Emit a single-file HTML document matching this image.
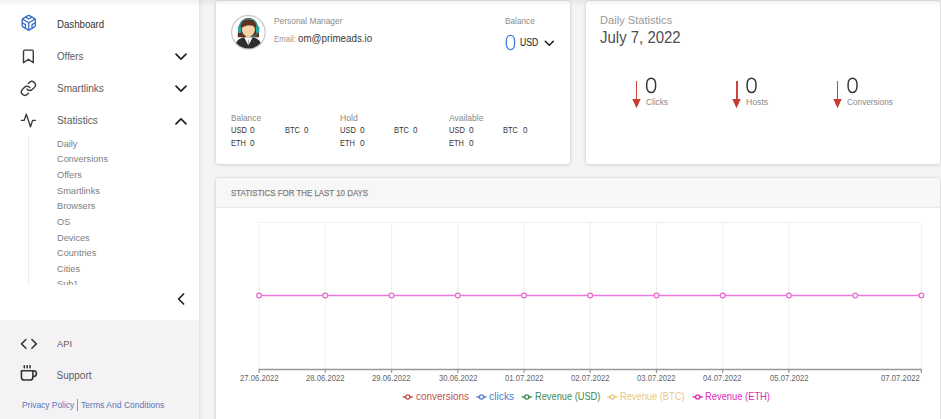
<!DOCTYPE html>
<html><head><meta charset="utf-8"><style>
html,body{margin:0;padding:0}
body{width:941px;height:419px;overflow:hidden;position:relative;background:#f4f4f4;font-family:"Liberation Sans",sans-serif}
.t{position:absolute;white-space:nowrap;line-height:1;transform-origin:0 0}
.ic{position:absolute;overflow:visible}
#sbw{position:absolute;left:0;top:-10px;width:199px;height:440px;background:#fff;box-shadow:0 0 5px rgba(0,0,0,0.14)}
#sb{position:absolute;left:0;top:0;width:199px;height:320px;background:#fff}
#sbb{position:absolute;left:0;top:320px;width:199px;height:99px;background:#f4f2f4}
#subline{position:absolute;left:28px;top:136px;width:1px;height:148.6px;background:#ececec}
#sub{position:absolute;left:0;top:136px;width:199px;height:148.6px;overflow:hidden}
#topsh{position:absolute;left:0;top:0;width:941px;height:6px;background:linear-gradient(to bottom,rgba(0,0,0,0.06),rgba(0,0,0,0))}
.card{position:absolute;background:#fff;border-radius:3px;box-shadow:0 0 3px rgba(0,0,0,0.13),0 1px 4px rgba(0,0,0,0.1)}
</style></head><body>
<div id="sbw"></div><div id="sb"></div><div id="sbb"></div>
<svg class="ic" style="left:19.75px;top:13.85px" width="17.5" height="17.5" viewBox="0 0 24 24" fill="none" stroke-linecap="round" stroke-linejoin="round" stroke="#3770c2" stroke-width="1.8"><path d="M21 16V8a2 2 0 0 0-1-1.73l-7-4a2 2 0 0 0-2 0l-7 4A2 2 0 0 0 3 8v8a2 2 0 0 0 1 1.73l7 4a2 2 0 0 0 2 0l7-4A2 2 0 0 0 21 16z"/><polyline points="7.5 4.21 12 6.81 16.5 4.21"/><polyline points="7.5 19.79 7.5 14.6 3 12"/><polyline points="21 12 16.5 14.6 16.5 19.79"/><polyline points="3.27 6.96 12 12.01 20.73 6.96"/><line x1="12" y1="22.08" x2="12" y2="12"/></svg>
<svg class="ic" style="left:19.90px;top:48.35px" width="16.8" height="16.8" viewBox="0 0 24 24" fill="none" stroke-linecap="round" stroke-linejoin="round" stroke="#3a3a3a" stroke-width="2.0"><path d="M19 21l-7-5-7 5V5a2 2 0 0 1 2-2h10a2 2 0 0 1 2 2z"/></svg>
<svg class="ic" style="left:19.70px;top:80.30px" width="16.8" height="16.8" viewBox="0 0 24 24" fill="none" stroke-linecap="round" stroke-linejoin="round" stroke="#3a3a3a" stroke-width="2.0"><path d="M10 13a5 5 0 0 0 7.54.54l3-3a5 5 0 0 0-7.07-7.07l-1.72 1.71"/><path d="M14 11a5 5 0 0 0-7.54-.54l-3 3a5 5 0 0 0 7.07 7.07l1.71-1.71"/></svg>
<svg class="ic" style="left:20.00px;top:112.20px" width="16.8" height="16.8" viewBox="0 0 24 24" fill="none" stroke-linecap="round" stroke-linejoin="round" stroke="#3a3a3a" stroke-width="2.0"><polyline points="22 12 18 12 15 21 9 3 6 12 2 12"/></svg>
<svg class="ic" style="left:0;top:0" width="199" height="419" fill="none" stroke-linecap="round" stroke-linejoin="round" stroke="#222" stroke-width="1.7">
<polyline points="176,54.2 181,59.2 186,54.2"/><polyline points="176,86.2 181,91.2 186,86.2"/><polyline points="176,123.8 181,118.8 186,123.8"/><polyline points="183.6,294 178.6,299 183.6,304"/>
</svg>
<div class="t" id="t0" style="left:57.10px;top:19.60px;font-size:10.4px;color:#333;font-weight:normal;transform:scaleX(0.9283);">Dashboard</div>
<div class="t" id="t1" style="left:57.10px;top:51.50px;font-size:10.4px;color:#5c5c5c;font-weight:normal;transform:scaleX(0.9392);">Offers</div>
<div class="t" id="t2" style="left:57.00px;top:83.90px;font-size:10.4px;color:#5c5c5c;font-weight:normal;transform:scaleX(0.9649);">Smartlinks</div>
<div class="t" id="t3" style="left:57.00px;top:115.70px;font-size:10.4px;color:#5c5c5c;font-weight:normal;transform:scaleX(0.9861);">Statistics</div>
<div id="subline"></div><div id="sub">
<div class="t" id="t4" style="left:57.00px;top:3.71px;font-size:9.2px;color:#7e7e7e;font-weight:normal;">Daily</div>
<div class="t" id="t5" style="left:57.00px;top:19.35px;font-size:9.2px;color:#7e7e7e;font-weight:normal;">Conversions</div>
<div class="t" id="t6" style="left:57.00px;top:34.99px;font-size:9.2px;color:#7e7e7e;font-weight:normal;">Offers</div>
<div class="t" id="t7" style="left:57.00px;top:50.63px;font-size:9.2px;color:#7e7e7e;font-weight:normal;">Smartlinks</div>
<div class="t" id="t8" style="left:57.00px;top:66.27px;font-size:9.2px;color:#7e7e7e;font-weight:normal;">Browsers</div>
<div class="t" id="t9" style="left:57.00px;top:81.91px;font-size:9.2px;color:#7e7e7e;font-weight:normal;">OS</div>
<div class="t" id="t10" style="left:57.00px;top:97.55px;font-size:9.2px;color:#7e7e7e;font-weight:normal;">Devices</div>
<div class="t" id="t11" style="left:57.00px;top:113.19px;font-size:9.2px;color:#7e7e7e;font-weight:normal;">Countries</div>
<div class="t" id="t12" style="left:57.00px;top:128.83px;font-size:9.2px;color:#7e7e7e;font-weight:normal;">Cities</div>
<div class="t" id="t13" style="left:57.00px;top:144.47px;font-size:9.2px;color:#7e7e7e;font-weight:normal;">Sub1</div>
</div>
<svg class="ic" style="left:19.55px;top:335.00px" width="17.8" height="17.8" viewBox="0 0 24 24" fill="none" stroke-linecap="round" stroke-linejoin="round" stroke="#333" stroke-width="2.0"><polyline points="16 18 22 12 16 6"/><polyline points="8 6 2 12 8 18"/></svg>
<svg class="ic" style="left:20.00px;top:364.90px" width="17.2" height="17.2" viewBox="0 0 24 24" fill="none" stroke-linecap="round" stroke-linejoin="round" stroke="#333" stroke-width="2.2"><path d="M18 8h1a4 4 0 0 1 0 8h-1"/><path d="M2 8h16v9a4 4 0 0 1-4 4H6a4 4 0 0 1-4-4V8z"/><line x1="6" y1="1" x2="6" y2="4"/><line x1="10" y1="1" x2="10" y2="4"/><line x1="14" y1="1" x2="14" y2="4"/></svg>
<div class="t" id="t14" style="left:56.50px;top:339.39px;font-size:9.7px;color:#5c5c5c;font-weight:normal;transform:scaleX(0.9600);">API</div>
<div class="t" id="t15" style="left:56.50px;top:370.64px;font-size:10px;color:#5c5c5c;font-weight:normal;">Support</div>
<div class="t" id="t16" style="left:21.50px;top:400.71px;font-size:9.2px;color:#5677bb;font-weight:normal;transform:scaleX(0.9128);">Privacy Policy</div>
<div style="position:absolute;left:77px;top:399px;width:1.2px;height:12.4px;background:#6a9be8"></div>
<div class="t" id="t17" style="left:81.30px;top:400.71px;font-size:9.2px;color:#5677bb;font-weight:normal;transform:scaleX(0.9331);">Terms And Conditions</div>
<div class="card" style="left:216px;top:1px;width:354px;height:163px"></div>
<svg class="ic" style="left:230px;top:14px" width="37" height="37" viewBox="0 0 37 37">
<defs><clipPath id="cc"><circle cx="18.4" cy="18.3" r="16.2"/></clipPath></defs>
<circle cx="18.4" cy="18.3" r="16.8" fill="#fff" stroke="#cdcdcd" stroke-width="1.3"/>
<g clip-path="url(#cc)">
<path d="M7.8 23.2 C7.4 12 10.5 4 18.4 4 C26.3 4 29.4 12 29 23.2 Z" fill="#5e3322"/>
<path d="M4.5 37 C4.5 28 8.5 24.3 14 23.3 L22.8 23.3 C28.3 24.3 32.3 28 32.3 37 Z" fill="#2e2e2e"/>
<path d="M14.1 23.3 L18.4 31.6 L22.7 23.3 Z" fill="#fff"/>
<path d="M18.4 25.5 L18.4 31" stroke="#777" stroke-width="0.7"/>
<rect x="15.9" y="19" width="5" height="4.8" fill="#eec595"/>
<ellipse cx="18.4" cy="15.6" rx="6.5" ry="7" fill="#f7d4a8"/>
<path d="M11.9 13.8 C12 8 15 6.2 18.4 6.2 C22 6.2 25 8.5 25.1 13.2 C22 10.5 16 10.2 11.9 13.8 Z" fill="#5e3322"/>
<path d="M9.5 14.5 C9.5 8 13 5 18.4 5 C23.8 5 27.3 8 27.3 14.5" fill="none" stroke="#2aa3a3" stroke-width="1.2"/>
<rect x="7.9" y="12.1" width="3.3" height="7" rx="1.5" fill="#2aa3a3"/>
<rect x="26" y="12.1" width="3.3" height="7" rx="1.5" fill="#2aa3a3"/>
<path d="M27 18.5 C26.6 22 23.6 22.8 20.2 22.8" fill="none" stroke="#2aa3a3" stroke-width="1"/>
</g></svg>
<div class="t" id="t18" style="left:273.70px;top:17.22px;font-size:8.6px;color:#8a8a8a;font-weight:normal;transform:scaleX(0.9753);">Personal Manager</div>
<div class="t" id="t19" style="left:273.70px;top:34.58px;font-size:9.0px;color:#999;font-weight:normal;transform:scaleX(0.8755);">Email:</div>
<div class="t" id="t20" style="left:297.90px;top:33.06px;font-size:10.8px;color:#3a3a3a;font-weight:normal;transform:scaleX(0.9073);">om@primeads.io</div>
<div class="t" id="t21" style="left:504.90px;top:17.30px;font-size:8.5px;color:#8a8a8a;font-weight:normal;transform:scaleX(0.9701);">Balance</div>
<div class="t" id="t22" style="left:520.20px;top:37.87px;font-size:10.2px;color:#333;font-weight:normal;transform:scaleX(0.8505);-webkit-text-stroke:0.15px #333;">USD</div>
<svg class="ic" style="left:0;top:0" width="941" height="419"><rect x="506.38" y="35.38" width="8.15" height="14.25" rx="4.08" ry="5.05" fill="none" stroke="#3f7fd8" stroke-width="1.35"/></svg>
<svg class="ic" style="left:0;top:0" width="941" height="419" fill="none" stroke-linecap="round" stroke-linejoin="round" stroke="#222" stroke-width="1.6"><polyline points="545.3,41.3 549.3,45.3 553.3,41.3"/></svg>
<div class="t" id="t23" style="left:230.70px;top:114.05px;font-size:8.5px;color:#8a8a8a;font-weight:normal;transform:scaleX(0.9766);">Balance</div>
<div class="t" id="t24" style="left:230.80px;top:126.40px;font-size:9.1px;color:#333;font-weight:normal;transform:scaleX(0.8228);">USD</div>
<div class="t" id="t25" style="left:250.40px;top:126.40px;font-size:9.1px;color:#333;font-weight:normal;transform:scaleX(0.9086);">0</div>
<div class="t" id="t26" style="left:284.90px;top:126.40px;font-size:9.1px;color:#333;font-weight:normal;transform:scaleX(0.8220);">BTC</div>
<div class="t" id="t27" style="left:304.00px;top:126.40px;font-size:9.1px;color:#333;font-weight:normal;transform:scaleX(0.8889);">0</div>
<div class="t" id="t28" style="left:230.80px;top:139.20px;font-size:9.1px;color:#333;font-weight:normal;transform:scaleX(0.8137);">ETH</div>
<div class="t" id="t29" style="left:250.40px;top:139.20px;font-size:9.1px;color:#333;font-weight:normal;transform:scaleX(0.9086);">0</div>
<div class="t" id="t30" style="left:339.80px;top:114.05px;font-size:8.5px;color:#8a8a8a;font-weight:normal;transform:scaleX(1.0181);">Hold</div>
<div class="t" id="t31" style="left:339.90px;top:126.40px;font-size:9.1px;color:#333;font-weight:normal;transform:scaleX(0.8228);">USD</div>
<div class="t" id="t32" style="left:359.50px;top:126.40px;font-size:9.1px;color:#333;font-weight:normal;transform:scaleX(0.9086);">0</div>
<div class="t" id="t33" style="left:394.00px;top:126.40px;font-size:9.1px;color:#333;font-weight:normal;transform:scaleX(0.8220);">BTC</div>
<div class="t" id="t34" style="left:413.10px;top:126.40px;font-size:9.1px;color:#333;font-weight:normal;transform:scaleX(0.8889);">0</div>
<div class="t" id="t35" style="left:339.90px;top:139.20px;font-size:9.1px;color:#333;font-weight:normal;transform:scaleX(0.8137);">ETH</div>
<div class="t" id="t36" style="left:359.50px;top:139.20px;font-size:9.1px;color:#333;font-weight:normal;transform:scaleX(0.9086);">0</div>
<div class="t" id="t37" style="left:449.20px;top:114.05px;font-size:8.5px;color:#8a8a8a;font-weight:normal;transform:scaleX(1.0045);">Available</div>
<div class="t" id="t38" style="left:449.30px;top:126.40px;font-size:9.1px;color:#333;font-weight:normal;transform:scaleX(0.8228);">USD</div>
<div class="t" id="t39" style="left:468.90px;top:126.40px;font-size:9.1px;color:#333;font-weight:normal;transform:scaleX(0.9086);">0</div>
<div class="t" id="t40" style="left:503.40px;top:126.40px;font-size:9.1px;color:#333;font-weight:normal;transform:scaleX(0.8220);">BTC</div>
<div class="t" id="t41" style="left:522.50px;top:126.40px;font-size:9.1px;color:#333;font-weight:normal;transform:scaleX(0.8889);">0</div>
<div class="t" id="t42" style="left:449.30px;top:139.20px;font-size:9.1px;color:#333;font-weight:normal;transform:scaleX(0.8137);">ETH</div>
<div class="t" id="t43" style="left:468.90px;top:139.20px;font-size:9.1px;color:#333;font-weight:normal;transform:scaleX(0.9086);">0</div>
<div class="card" style="left:586px;top:1px;width:354px;height:163px"></div>
<div class="t" id="t44" style="left:599.80px;top:15.02px;font-size:11.2px;color:#999;font-weight:normal;transform:scaleX(0.9924);">Daily Statistics</div>
<div class="t" id="t45" style="left:599.80px;top:29.53px;font-size:15.8px;color:#4f4f4f;font-weight:normal;transform:scaleX(0.9473);">July 7, 2022</div>
<div style="position:absolute;left:636.10px;top:80.6px;width:1.4px;height:19px;background:#c9443a"></div>
<svg class="ic" style="left:632.30px;top:98.6px" width="9" height="10" viewBox="0 0 9 10"><path d="M0.3 0 L8.7 0 L4.5 9.2 Z" fill="#c43c32"/></svg>
<svg class="ic" style="left:0;top:0" width="941" height="419"><rect x="646.73" y="78.22" width="8.85" height="14.35" rx="4.43" ry="5.49" fill="none" stroke="#333" stroke-width="1.45"/></svg>
<div class="t" id="t46" style="left:646.00px;top:97.87px;font-size:8.9px;color:#8a8a8a;font-weight:normal;transform:scaleX(0.9294);">Clicks</div>
<div style="position:absolute;left:736.20px;top:80.6px;width:1.4px;height:19px;background:#c9443a"></div>
<svg class="ic" style="left:732.40px;top:98.6px" width="9" height="10" viewBox="0 0 9 10"><path d="M0.3 0 L8.7 0 L4.5 9.2 Z" fill="#c43c32"/></svg>
<svg class="ic" style="left:0;top:0" width="941" height="419"><rect x="747.12" y="78.22" width="8.85" height="14.35" rx="4.43" ry="5.49" fill="none" stroke="#333" stroke-width="1.45"/></svg>
<div class="t" id="t47" style="left:746.40px;top:97.87px;font-size:8.9px;color:#8a8a8a;font-weight:normal;transform:scaleX(0.9785);">Hosts</div>
<div style="position:absolute;left:836.60px;top:80.6px;width:1.4px;height:19px;background:#c9443a"></div>
<svg class="ic" style="left:832.80px;top:98.6px" width="9" height="10" viewBox="0 0 9 10"><path d="M0.3 0 L8.7 0 L4.5 9.2 Z" fill="#c43c32"/></svg>
<svg class="ic" style="left:0;top:0" width="941" height="419"><rect x="848.12" y="78.22" width="8.85" height="14.35" rx="4.43" ry="5.49" fill="none" stroke="#333" stroke-width="1.45"/></svg>
<div class="t" id="t48" style="left:847.40px;top:97.87px;font-size:8.9px;color:#8a8a8a;font-weight:normal;transform:scaleX(0.9302);">Conversions</div>
<div class="card" style="left:216px;top:178px;width:724px;height:260px"></div>
<div style="position:absolute;left:216px;top:178px;width:724px;height:29px;background:#f7f7f7;border-bottom:1px solid #e8e8e8;border-radius:3px 3px 0 0"></div>
<div class="t" id="t49" style="left:230.50px;top:187.74px;font-size:9.4px;color:#808080;font-weight:normal;transform:scaleX(0.8426);-webkit-text-stroke:0.25px #808080;">STATISTICS FOR THE LAST 10 DAYS</div>
<svg class="ic" style="left:0;top:0" width="941" height="419"><line x1="259.1" y1="222.5" x2="921.4000000000001" y2="222.5" stroke="#e4e4e4" stroke-width="1" stroke-dasharray="1 1"/><line x1="259.1" y1="222" x2="259.1" y2="369" stroke="#e0e0e0" stroke-width="1" stroke-dasharray="1 1"/><line x1="325.3" y1="222" x2="325.3" y2="369" stroke="#e0e0e0" stroke-width="1" stroke-dasharray="1 1"/><line x1="391.6" y1="222" x2="391.6" y2="369" stroke="#e0e0e0" stroke-width="1" stroke-dasharray="1 1"/><line x1="457.8" y1="222" x2="457.8" y2="369" stroke="#e0e0e0" stroke-width="1" stroke-dasharray="1 1"/><line x1="524.0" y1="222" x2="524.0" y2="369" stroke="#e0e0e0" stroke-width="1" stroke-dasharray="1 1"/><line x1="590.2" y1="222" x2="590.2" y2="369" stroke="#e0e0e0" stroke-width="1" stroke-dasharray="1 1"/><line x1="656.5" y1="222" x2="656.5" y2="369" stroke="#e0e0e0" stroke-width="1" stroke-dasharray="1 1"/><line x1="722.7" y1="222" x2="722.7" y2="369" stroke="#e0e0e0" stroke-width="1" stroke-dasharray="1 1"/><line x1="788.9" y1="222" x2="788.9" y2="369" stroke="#e0e0e0" stroke-width="1" stroke-dasharray="1 1"/><line x1="921.4" y1="222" x2="921.4" y2="369" stroke="#e0e0e0" stroke-width="1" stroke-dasharray="1 1"/><line x1="258.6" y1="369.5" x2="921.9000000000001" y2="369.5" stroke="#999" stroke-width="1.3"/><line x1="259.1" y1="369" x2="259.1" y2="373" stroke="#999" stroke-width="1.2"/><line x1="325.3" y1="369" x2="325.3" y2="373" stroke="#999" stroke-width="1.2"/><line x1="391.6" y1="369" x2="391.6" y2="373" stroke="#999" stroke-width="1.2"/><line x1="457.8" y1="369" x2="457.8" y2="373" stroke="#999" stroke-width="1.2"/><line x1="524.0" y1="369" x2="524.0" y2="373" stroke="#999" stroke-width="1.2"/><line x1="590.2" y1="369" x2="590.2" y2="373" stroke="#999" stroke-width="1.2"/><line x1="656.5" y1="369" x2="656.5" y2="373" stroke="#999" stroke-width="1.2"/><line x1="722.7" y1="369" x2="722.7" y2="373" stroke="#999" stroke-width="1.2"/><line x1="788.9" y1="369" x2="788.9" y2="373" stroke="#999" stroke-width="1.2"/><line x1="921.4" y1="369" x2="921.4" y2="373" stroke="#999" stroke-width="1.2"/><line x1="259.1" y1="295.5" x2="921.4000000000001" y2="295.5" stroke="#ee78d9" stroke-width="1.5"/><circle cx="259.1" cy="295.5" r="2.35" fill="#fff" stroke="#e96ad2" stroke-width="1.25"/><circle cx="325.3" cy="295.5" r="2.35" fill="#fff" stroke="#e96ad2" stroke-width="1.25"/><circle cx="391.6" cy="295.5" r="2.35" fill="#fff" stroke="#e96ad2" stroke-width="1.25"/><circle cx="457.8" cy="295.5" r="2.35" fill="#fff" stroke="#e96ad2" stroke-width="1.25"/><circle cx="524.0" cy="295.5" r="2.35" fill="#fff" stroke="#e96ad2" stroke-width="1.25"/><circle cx="590.2" cy="295.5" r="2.35" fill="#fff" stroke="#e96ad2" stroke-width="1.25"/><circle cx="656.5" cy="295.5" r="2.35" fill="#fff" stroke="#e96ad2" stroke-width="1.25"/><circle cx="722.7" cy="295.5" r="2.35" fill="#fff" stroke="#e96ad2" stroke-width="1.25"/><circle cx="788.9" cy="295.5" r="2.35" fill="#fff" stroke="#e96ad2" stroke-width="1.25"/><circle cx="855.2" cy="295.5" r="2.35" fill="#fff" stroke="#e96ad2" stroke-width="1.25"/><circle cx="921.4" cy="295.5" r="2.35" fill="#fff" stroke="#e96ad2" stroke-width="1.25"/></svg>
<div class="t" id="t50" style="left:239.85px;top:374.49px;font-size:8.4px;color:#666;font-weight:normal;transform:scaleX(0.9184);">27.06.2022</div>
<div class="t" id="t51" style="left:306.08px;top:374.49px;font-size:8.4px;color:#666;font-weight:normal;transform:scaleX(0.9184);">28.06.2022</div>
<div class="t" id="t52" style="left:372.31px;top:374.49px;font-size:8.4px;color:#666;font-weight:normal;transform:scaleX(0.9184);">29.06.2022</div>
<div class="t" id="t53" style="left:438.54px;top:374.49px;font-size:8.4px;color:#666;font-weight:normal;transform:scaleX(0.9184);">30.06.2022</div>
<div class="t" id="t54" style="left:504.77px;top:374.49px;font-size:8.4px;color:#666;font-weight:normal;transform:scaleX(0.9184);">01.07.2022</div>
<div class="t" id="t55" style="left:571.00px;top:374.49px;font-size:8.4px;color:#666;font-weight:normal;transform:scaleX(0.9184);">02.07.2022</div>
<div class="t" id="t56" style="left:637.23px;top:374.49px;font-size:8.4px;color:#666;font-weight:normal;transform:scaleX(0.9184);">03.07.2022</div>
<div class="t" id="t57" style="left:703.46px;top:374.49px;font-size:8.4px;color:#666;font-weight:normal;transform:scaleX(0.9184);">04.07.2022</div>
<div class="t" id="t58" style="left:769.69px;top:374.49px;font-size:8.4px;color:#666;font-weight:normal;transform:scaleX(0.9184);">05.07.2022</div>
<div class="t" id="t59" style="left:880.80px;top:374.49px;font-size:8.4px;color:#666;font-weight:normal;transform:scaleX(0.9279);">07.07.2022</div>
<svg class="ic" style="left:0;top:0" width="941" height="419"><line x1="402.8" y1="397" x2="412.8" y2="397" stroke="#c0504d" stroke-width="1.5"/><circle cx="407.8" cy="397" r="2.1" fill="#fff" stroke="#c0504d" stroke-width="1.4"/><line x1="476.5" y1="397" x2="486.5" y2="397" stroke="#4f7fd0" stroke-width="1.5"/><circle cx="481.5" cy="397" r="2.1" fill="#fff" stroke="#4f7fd0" stroke-width="1.4"/><line x1="521.8" y1="397" x2="531.8" y2="397" stroke="#3d8b4f" stroke-width="1.5"/><circle cx="526.8" cy="397" r="2.1" fill="#fff" stroke="#3d8b4f" stroke-width="1.4"/><line x1="607.3" y1="397" x2="617.3" y2="397" stroke="#e8c887" stroke-width="1.5"/><circle cx="612.3" cy="397" r="2.1" fill="#fff" stroke="#e8c887" stroke-width="1.4"/><line x1="692.7" y1="397" x2="702.7" y2="397" stroke="#e02bb5" stroke-width="1.5"/><circle cx="697.7" cy="397" r="2.1" fill="#fff" stroke="#e02bb5" stroke-width="1.4"/></svg>
<div class="t" id="t60" style="left:416.20px;top:392.07px;font-size:10.2px;color:#c0504d;font-weight:normal;transform:scaleX(0.9729);">conversions</div>
<div class="t" id="t61" style="left:489.20px;top:392.07px;font-size:10.2px;color:#4f7fd0;font-weight:normal;transform:scaleX(1.0118);">clicks</div>
<div class="t" id="t62" style="left:534.50px;top:392.07px;font-size:10.2px;color:#3d8b4f;font-weight:normal;transform:scaleX(0.9095);">Revenue (USD)</div>
<div class="t" id="t63" style="left:620.00px;top:392.07px;font-size:10.2px;color:#e8c887;font-weight:normal;transform:scaleX(0.9113);">Revenue (BTC)</div>
<div class="t" id="t64" style="left:705.20px;top:392.07px;font-size:10.2px;color:#e02bb5;font-weight:normal;transform:scaleX(0.9183);">Revenue (ETH)</div>
<div id="topsh"></div>
</body></html>
